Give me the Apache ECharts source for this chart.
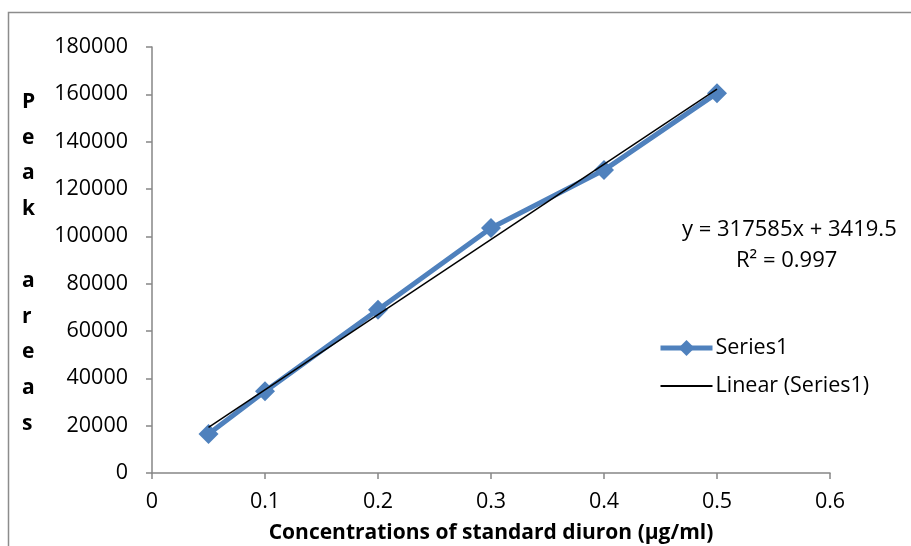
<!DOCTYPE html>
<html><head><meta charset="utf-8">
<script src="https://cdn.jsdelivr.net/npm/echarts@6/dist/echarts.min.js"></script>
<style>html,body{margin:0;padding:0;background:#fff}#c{width:911px;height:546px}</style>
</head><body><div id="c"></div>
<script>
const concentrations = [0.05, 0.1, 0.2, 0.3, 0.4, 0.5];
const peakAreas = [16500, 34500, 69000, 103500, 128000, 160500];
const trendX = [0.05, 0.5];
const trendY = [19300, 162200];
const equationText = 'y = 317585x + 3419.5';
const r2Text = 'R² = 0.997';
const FONT = 'Open Sans';

const chart = echarts.init(document.getElementById('c'), null, {renderer: 'canvas'});
chart.setOption({
  animation: false,
  backgroundColor: '#fff',
  textStyle: {fontFamily: FONT},
  grid: {left: 152, right: 81, top: 47, bottom: 73, containLabel: false, outerBoundsMode: 'none'},
  xAxis: {
    type: 'value', min: 0, max: 0.6, interval: 0.1,
    axisLine: {lineStyle: {color: '#868686', width: 1.5}},
    axisTick: {show: true, length: 6, lineStyle: {color: '#868686', width: 1.5}},
    axisLabel: {color: '#000', fontSize: 21.5, fontFamily: FONT, margin: 18},
    splitLine: {show: false},
    name: 'Concentrations of standard diuron (µg/ml)',
    nameLocation: 'middle', nameGap: 50,
    nameTextStyle: {color: '#000', fontSize: 21, fontWeight: 'bold', fontFamily: FONT}
  },
  yAxis: {
    type: 'value', min: 0, max: 180000, interval: 20000,
    axisLine: {show: true, lineStyle: {color: '#868686', width: 1.5}},
    axisTick: {show: true, length: 6, lineStyle: {color: '#868686', width: 1.5}},
    axisLabel: {color: '#000', fontSize: 21.5, fontFamily: FONT, margin: 24, formatter: v => String(v)},
    splitLine: {show: false}
  },
  legend: {
    orient: 'vertical', left: 653, top: 332, itemGap: 16,
    itemWidth: 52, itemHeight: 20,
    textStyle: {color: '#000', fontSize: 21.5, fontFamily: FONT, padding: [0,0,0,-2]},
    data: [
      {name: 'Series1', lineStyle: {width: 5, color: '#4F81BD'}},
      {name: 'Linear (Series1)', icon: 'path://M0,0 L52,0 L52,2 L0,2 Z', itemStyle: {color: '#000'}}
    ]
  },
  graphic: [
    {type: 'rect', shape: {x: 8.5, y: 12.5, width: 2000, height: 2000}, style: {fill: 'none', stroke: '#8c8c8c', lineWidth: 1.5}, silent: true},
    {type: 'text', left: 22, top: 84, style: {text: 'P\ne\na\nk\n\na\nr\ne\na\ns', fontSize: 21, fontWeight: 'bold', fontFamily: FONT, fill: '#000', lineHeight: 35.8, align: 'center'}},
    {type: 'text', left: 682, top: 219, style: {text: equationText, fontSize: 22, fontFamily: FONT, fill: '#000'}},
    {type: 'text', left: 736, top: 250, style: {text: r2Text, fontSize: 22, fontFamily: FONT, fill: '#000'}}
  ],
  series: [
    {
      name: 'Series1', type: 'line',
      data: concentrations.map((x, i) => [x, peakAreas[i]]),
      symbol: 'diamond', symbolSize: 20,
      lineStyle: {color: '#4F81BD', width: 5},
      itemStyle: {color: '#4F81BD'},
      z: 2
    },
    {
      name: 'Linear (Series1)', type: 'line',
      data: trendX.map((x, i) => [x, trendY[i]]),
      symbol: 'none',
      lineStyle: {color: '#000', width: 1.5},
      itemStyle: {color: '#000'},
      z: 3
    }
  ]
});
</script></body></html>
